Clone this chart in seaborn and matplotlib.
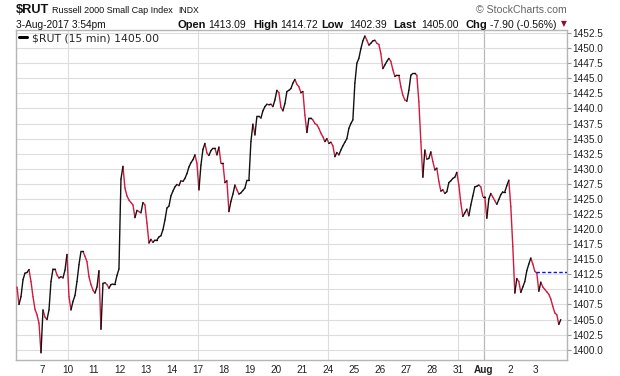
import numpy as np
import pandas as pd
import matplotlib
matplotlib.use("Agg")
import matplotlib.pyplot as plt
import seaborn as sns
from matplotlib.lines import Line2D

# ---- data: 30-minute closes per trading day (13 per day) ----
jul06 = [1410.4, 1407.5, 1408.8, 1411.6, 1412.7, 1412.8, 1413.3, 1411.3, 1408.8, 1406.7, 1405.8, 1404.4, 1399.5]
jul07 = [1406.6, 1405.4, 1405.0, 1406.6, 1411.3, 1413.4, 1413.4, 1412.4, 1411.9, 1412.1, 1411.9, 1413.2, 1415.8]
jul10 = [1408.8, 1406.6, 1408.0, 1409.0, 1411.3, 1414.1, 1416.3, 1416.3, 1415.5, 1414.6, 1412.1, 1410.8, 1409.9]
jul11 = [1409.4, 1410.4, 1413.1, 1403.4, 1411.0, 1411.1, 1410.8, 1410.2, 1410.8, 1410.9, 1410.9, 1412.3, 1413.4]
jul12 = [1428.3, 1430.4, 1426.8, 1425.5, 1424.8, 1424.4, 1424.0, 1421.9, 1423.1, 1422.9, 1422.7, 1424.4, 1424.0]
jul13 = [1421.0, 1417.7, 1418.3, 1417.8, 1418.2, 1418.2, 1418.7, 1418.9, 1419.9, 1421.5, 1423.5, 1423.8, 1425.5]
jul14 = [1426.3, 1427.0, 1427.4, 1427.2, 1428.0, 1427.9, 1428.4, 1429.2, 1430.3, 1431.0, 1431.5, 1432.3, 1430.9]
jul17 = [1426.5, 1430.6, 1433.2, 1434.2, 1432.6, 1432.2, 1433.0, 1433.4, 1433.4, 1432.3, 1433.6, 1430.9, 1430.9]
jul18 = [1427.7, 1428.0, 1422.9, 1424.6, 1425.8, 1427.3, 1426.5, 1425.8, 1426.0, 1426.4, 1426.8, 1428.1, 1428.1]
jul19 = [1434.5, 1437.4, 1435.6, 1438.7, 1438.7, 1438.4, 1439.6, 1440.3, 1440.7, 1440.6, 1440.7, 1440.3, 1441.4]
jul20 = [1443.0, 1442.6, 1440.2, 1439.6, 1440.8, 1442.8, 1443.0, 1443.3, 1444.2, 1444.8, 1444.0, 1443.6, 1442.6]
jul21 = [1442.8, 1438.9, 1436.0, 1438.4, 1438.4, 1438.1, 1437.5, 1437.3, 1436.7, 1435.9, 1435.3, 1434.5, 1435.0]
jul24 = [1434.2, 1434.4, 1433.8, 1432.0, 1432.7, 1432.3, 1433.1, 1433.8, 1434.4, 1435.0, 1436.7, 1437.5, 1438.1]
jul25 = [1444.2, 1447.5, 1448.3, 1449.9, 1451.2, 1452.0, 1451.3, 1450.5, 1450.8, 1451.2, 1451.3, 1450.8, 1450.6]
jul26 = [1449.1, 1446.6, 1447.2, 1447.8, 1448.3, 1447.8, 1446.4, 1445.3, 1445.5, 1445.5, 1443.6, 1442.2, 1441.4]
jul27 = [1441.2, 1443.0, 1445.5, 1445.8, 1445.8, 1445.5, 1441.1, 1434.5, 1428.6, 1433.1, 1431.6, 1431.7, 1432.8]
jul28 = [1431.2, 1429.8, 1430.1, 1427.9, 1426.3, 1426.5, 1425.9, 1426.2, 1427.7, 1428.0, 1428.4, 1428.6, 1429.4]
jul31 = [1427.3, 1424.3, 1422.1, 1422.7, 1423.3, 1422.2, 1424.0, 1425.5, 1427.0, 1427.1, 1427.3, 1427.0, 1425.4]
aug01 = [1425.4, 1421.8, 1425.0, 1425.9, 1425.3, 1424.7, 1424.1, 1424.9, 1425.7, 1426.2, 1426.2, 1427.2, 1428.1]
aug02 = [1423.7, 1417.1, 1409.4, 1411.8, 1411.3, 1409.5, 1410.4, 1411.3, 1413.1, 1414.2, 1415.2, 1414.2, 1413.0]
aug03 = [1412.7, 1409.7, 1411.2, 1410.4, 1410.0, 1409.6, 1409.2, 1408.4, 1407.2, 1406.1, 1405.8, 1404.2, 1405.0]

day_prices = [jul06, jul07, jul10, jul11, jul12, jul13, jul14, jul17, jul18, jul19, jul20,
              jul21, jul24, jul25, jul26, jul27, jul28, jul31, aug01, aug02, aug03]
tick_labels = ['7', '10', '11', '12', '13', '14', '17', '18', '19', '20', '21',
               '24', '25', '26', '27', '28', '31', 'Aug', '2', '3']
week_start_idx = [2, 7, 12, 17]
month_start_idx = [18]

open_price = 1413.09
high_price = 1414.72
low_price = 1402.39
last_price = 1405.00
chg = -7.90
chg_pct = -0.56
prev_close = last_price - chg

UP = '#111111'
DOWN = '#d11a40'

sns.set_style('white')
plt.rcParams['font.family'] = ['Liberation Sans', 'DejaVu Sans']

n_per_day = len(jul06)
prices = np.concatenate([np.array(p, float) for p in day_prices])
t = np.concatenate([d + (np.arange(len(p)) + 0.5) / n_per_day for d, p in enumerate(day_prices)])

rows = []
for i in range(len(prices) - 1):
    direction = 'up' if prices[i + 1] >= prices[i] else 'down'
    rows.append((i, t[i], prices[i], direction))
    rows.append((i, t[i + 1], prices[i + 1], direction))
df = pd.DataFrame(rows, columns=['seg', 't', 'price', 'dir'])

W, H = 620, 376
fig = plt.figure(figsize=(W / 100, H / 100), dpi=100)
ax = fig.add_axes([16 / W, 16 / H, 551 / W, 330 / H])

sns.lineplot(data=df, x='t', y='price', hue='dir', units='seg', estimator=None, sort=False,
             palette={'up': UP, 'down': DOWN}, lw=1.0, legend=False, ax=ax, zorder=3)

ax.set_xlim(0, len(day_prices) + 0.2)
ax.set_ylim(1398.3, 1453.0)

# grid
yt = np.arange(1400, 1452.6, 2.5)
ax.set_yticks(yt)
ax.set_yticklabels([f'{v:.1f}' for v in yt])
ax.grid(axis='y', color='#dddddd', lw=0.8, zorder=0)
for d in week_start_idx:
    ax.axvline(d, color='#dddddd', lw=0.8, zorder=0)
for d in month_start_idx:
    ax.axvline(d, color='#b8b8b8', lw=0.9, zorder=0)

ax.set_xticks(range(1, len(day_prices)))
ax.set_xticklabels(tick_labels)
for lab in ax.get_xticklabels():
    if lab.get_text() == 'Aug':
        lab.set_fontweight('bold')

ax.yaxis.tick_right()
ax.tick_params(axis='y', which='both', right=True, left=False, length=3, width=0.8,
               color='#999999', labelsize=7.2, labelcolor='#222222', pad=1)
ax.tick_params(axis='x', length=0, labelsize=7.2, labelcolor='#222222', pad=3.5)
ax.set_xlabel('')
ax.set_ylabel('')
for s in ax.spines.values():
    s.set_color('#b5b5b5')
    s.set_linewidth(1.0)
    s.set_visible(True)

# previous close reference line (dashed blue) on last day
ax.hlines(prev_close, len(day_prices) - 1, len(day_prices) + 0.2, colors='#1010ee',
          linestyles=(0, (2.5, 1.6)), lw=1.0, zorder=4)

# legend
ax.legend(handles=[Line2D([0], [0], color='black', lw=2.2)],
          labels=[r'\$RUT (15 min) 1405.00'], loc='upper left',
          bbox_to_anchor=(0.0, 1.0), frameon=False, handlelength=0.7,
          handletextpad=0.5, borderaxespad=0.05, borderpad=0.25,
          prop={'family': 'DejaVu Sans', 'size': 7.8})

def px(x, y):
    return x / W, 1 - y / H

fig.text(*px(16, 12.7), r'\$RUT', fontsize=9.2, fontweight='bold', va='baseline', color='#111111')
fig.text(*px(51.5, 12.7), 'Russell 2000 Small Cap Index', fontsize=6.5, va='baseline', color='#111111')
fig.text(*px(178, 12.7), 'INDX', fontsize=6.2, va='baseline', color='#111111')
fig.text(*px(567, 12.7), '\u00a9 StockCharts.com', fontsize=7.6, va='baseline', ha='right', color='#666666')

fig.text(*px(16, 28.2), '3-Aug-2017 3:54pm', fontsize=7.3, va='baseline', color='#111111')
items = [
    (177, 'Open', True), (208.5, f'{open_price:.2f}', False),
    (253, 'High', True), (280, f'{high_price:.2f}', False),
    (321.7, 'Low', True), (349.3, f'{low_price:.2f}', False),
    (393.3, 'Last', True), (421.7, f'{last_price:.2f}', False),
    (466, 'Chg', True), (490, f'{chg:.2f} ({chg_pct:.2f}%)', False),
]
for x, s, b in items:
    fig.text(*px(x, 28.2), s, fontsize=8.0 if b else 7.5, fontweight='bold' if b else 'normal',
             va='baseline', color='#111111')
fig.text(*px(564, 23.2), '\u25bc', fontsize=5.5, ha='center', va='center',
         color='#8c0f2e', family='DejaVu Sans')

fig.savefig('out.png', dpi=100)
